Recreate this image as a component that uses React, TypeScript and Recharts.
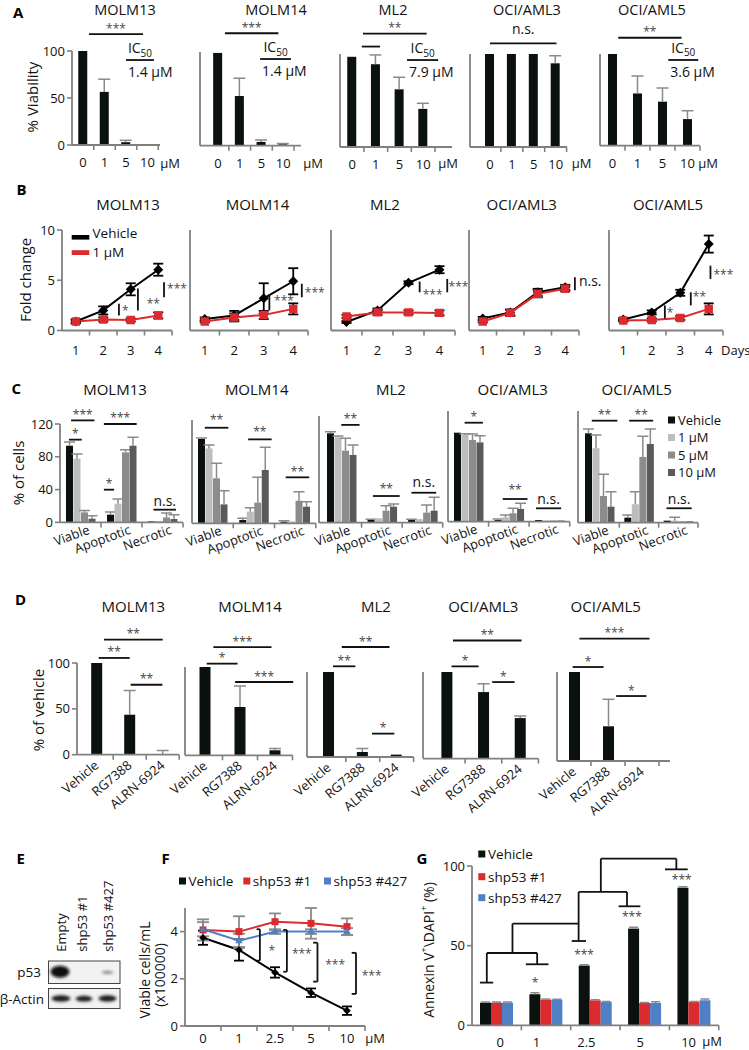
import React from 'react';
import { BarChart, Bar, LineChart, Line, XAxis, YAxis, ReferenceLine, ReferenceDot, ErrorBar } from 'recharts';

const FONT = '"Open Sans", "Liberation Sans", Arial, sans-serif';
const AXC = '#808080';
const STARC = '#4a4a4a';
const BLACK = '#0b120e';
const RED = '#dc2b2e';
const BLUE = '#4f80c6';
const ERRC = '#8a8a8a';

// ================= DATA =================
const cellLines = ['MOLM13', 'MOLM14', 'ML2', 'OCI/AML3', 'OCI/AML5'];

// Panel A: % viability
const doseLabelsA = ['0', '1', '5', '10'];
const viabMOLM13 = [102, 56.5, 3, 0.5];
const viabErrMOLM13 = [0.5, 13.5, 2, 0];
const viabMOLM14 = [99, 53, 4, 1.5];
const viabErrMOLM14 = [0, 19, 2, 0.8];
const viabML2 = [97, 89, 62, 41];
const viabErrML2 = [0, 10, 13, 6];
const viabAML3 = [101, 101, 101, 90];
const viabErrAML3 = [0, 0, 0, 8];
const viabAML5 = [100, 57, 48, 29];
const viabErrAML5 = [0, 19, 15, 9];
const ic50Labels = ['1.4 μM', '1.4 μM', '7.9 μM', '', '3.6 μM'];

// Panel B: fold change over days
const dayLabels = ['1', '2', '3', '4'];
const foldVehMOLM13 = [0.9, 2.0, 4.1, 6.05];
const foldVehErrMOLM13 = [0.2, 0.4, 0.6, 0.6];
const foldTrtMOLM13 = [0.9, 1.1, 1.05, 1.5];
const foldTrtErrMOLM13 = [0.15, 0.2, 0.15, 0.3];
const foldVehMOLM14 = [1.15, 1.5, 3.2, 4.9];
const foldVehErrMOLM14 = [0.15, 0.45, 1.5, 1.3];
const foldTrtMOLM14 = [0.9, 1.3, 1.55, 2.15];
const foldTrtErrMOLM14 = [0.1, 0.4, 0.4, 0.55];
const foldVehML2 = [0.85, 2.0, 4.75, 6.05];
const foldVehErrML2 = [0.1, 0.2, 0.15, 0.35];
const foldTrtML2 = [1.4, 1.8, 1.8, 1.75];
const foldTrtErrML2 = [0.15, 0.25, 0.2, 0.25];
const foldVehAML3 = [1.2, 1.8, 3.8, 4.3];
const foldVehErrAML3 = [0.15, 0.3, 0.35, 0.25];
const foldTrtAML3 = [0.9, 1.75, 3.65, 4.15];
const foldTrtErrAML3 = [0.1, 0.3, 0.35, 0.25];
const foldVehAML5 = [1.1, 1.8, 3.75, 8.6];
const foldVehErrAML5 = [0.15, 0.2, 0.3, 0.85];
const foldTrtAML5 = [1.0, 1.05, 1.25, 2.15];
const foldTrtErrAML5 = [0.1, 0.15, 0.2, 0.55];

// Panel C: % of cells (Vehicle, 1, 5, 10 µM) per category
const cellStates = ['Viable', 'Apoptotic', 'Necrotic'];
const doseLegendC = ['Vehicle', '1 μM', '5 μM', '10 μM'];
const cMOLM13 = [[93.5, 9.4, 1.2], [77.7, 22.8, 1.5], [12.2, 85.4, 6], [4.5, 93.5, 4.1]];
const cErrMOLM13 = [[4.5, 3.2, 0], [5.7, 5.7, 0], [2.4, 3.3, 5.4], [3.7, 10.2, 5.3]];
const cMOLM14 = [[98, 3.8, 1.9], [87, 13.5, 2.3], [52.3, 24, 26.2], [22, 61.9, 19.3]];
const cErrMOLM14 = [[1, 2, 1.1], [4, 4.6, 0], [17.4, 29.4, 10.5], [15.9, 26.4, 5.7]];
const cML2 = [[100.5, 3, 3], [96, 5, 4], [81, 13.5, 11.3], [76.2, 18, 13.5]];
const cErrML2 = [[1.9, 1, 1], [1.5, 0, 0], [14, 5.5, 8.7], [11.2, 3, 15]];
const cAML3 = [[96.5, 1.8, 1.8], [94, 4.8, 1.3], [88.6, 9.1, 1.3], [86, 13.8, 1.3]];
const cErrAML3 = [[0, 1.1, 0], [1.4, 2.4, 0], [6.4, 5.4, 0], [7.2, 6.2, 0]];
const cAML5 = [[96, 5.4, 2.2], [80, 19.8, 2.2], [28.7, 70.6, 1.5], [17.2, 84.5, 1.5]];
const cErrAML5 = [[4.6, 2.9, 0], [14.2, 13.5, 3.6], [23.3, 22.4, 0], [16.1, 16.1, 0]];

// Panel D: % of vehicle
const drugs = ['Vehicle', 'RG7388', 'ALRN-6924'];
const dMOLM13 = [103, 43.6, 0.8];
const dErrMOLM13 = [0, 26.4, 3.9];
const dMOLM14 = [100, 54.7, 5.7];
const dErrMOLM14 = [0, 23.8, 1.9];
const dML2 = [100, 5.9, 2.8];
const dErrML2 = [0, 4, 0];
const dAML3 = [101, 76.8, 46.8];
const dErrAML3 = [0, 9.7, 2.4];
const dAML5 = [100, 39, 0];
const dErrAML5 = [0, 30.3, 0];

// Panel F: viable cells/mL (x100000)
const doseLabelsFG = ['0', '1', '2.5', '5', '10'];
const fVehicle = [3.74, 3.22, 2.27, 1.41, 0.65];
const fVehicleErr = [0.3, 0.45, 0.22, 0.18, 0.18];
const fShp1 = [4.07, 4.0, 4.42, 4.35, 4.21];
const fShp1Err = [0.45, 0.65, 0.35, 0.65, 0.35];
const fShp427 = [4.1, 3.61, 4.0, 4.0, 4.0];
const fShp427Err = [0.3, 0.3, 0.1, 0.1, 0.15];
const shLegend = ['Vehicle', 'shp53 #1', 'shp53 #427'];

// Panel G: Annexin V+ DAPI+ (%)
const gVehicle = [14.2, 19.5, 37.5, 60.7, 86.4];
const gVehicleErr = [0.5, 1, 0.5, 0.8, 0.5];
const gShp1 = [14.2, 16.1, 15.7, 14, 14.6];
const gShp1Err = [0.5, 0.4, 0.3, 0.3, 0.3];
const gShp427 = [14.2, 16.1, 14.6, 14, 15.7];
const gShp427Err = [0.5, 0.3, 0.3, 0.8, 0.8];

// Panel E blot lanes
const blotLanes = ['Empty', 'shp53 #1', 'shp53 #427'];

// ================= ROW BUILDERS =================
const rowsSimple = (cats: string[], v: number[], e: number[]) => cats.map((c, i) => ({ c, i, v: v[i], e: e[i] }));
const rowsB = (veh: number[], vehE: number[], trt: number[], trtE: number[]) =>
  dayLabels.map((d, i) => ({ i, veh: veh[i], vehE: vehE[i], trt: trt[i], trtE: trtE[i] }));
const rowsC = (v: number[][], e: number[][]) =>
  cellStates.map((c, i) => ({ c, i, v0: v[0][i], v1: v[1][i], v2: v[2][i], v3: v[3][i], e0: e[0][i], e1: e[1][i], e2: e[2][i], e3: e[3][i] }));

const dataA = [
  rowsSimple(doseLabelsA, viabMOLM13, viabErrMOLM13),
  rowsSimple(doseLabelsA, viabMOLM14, viabErrMOLM14),
  rowsSimple(doseLabelsA, viabML2, viabErrML2),
  rowsSimple(doseLabelsA, viabAML3, viabErrAML3),
  rowsSimple(doseLabelsA, viabAML5, viabErrAML5),
];
const dataB = [
  rowsB(foldVehMOLM13, foldVehErrMOLM13, foldTrtMOLM13, foldTrtErrMOLM13),
  rowsB(foldVehMOLM14, foldVehErrMOLM14, foldTrtMOLM14, foldTrtErrMOLM14),
  rowsB(foldVehML2, foldVehErrML2, foldTrtML2, foldTrtErrML2),
  rowsB(foldVehAML3, foldVehErrAML3, foldTrtAML3, foldTrtErrAML3),
  rowsB(foldVehAML5, foldVehErrAML5, foldTrtAML5, foldTrtErrAML5),
];
const dataC = [rowsC(cMOLM13, cErrMOLM13), rowsC(cMOLM14, cErrMOLM14), rowsC(cML2, cErrML2), rowsC(cAML3, cErrAML3), rowsC(cAML5, cErrAML5)];
const dataD = [
  rowsSimple(drugs, dMOLM13, dErrMOLM13),
  rowsSimple(drugs, dMOLM14, dErrMOLM14),
  rowsSimple(drugs, dML2, dErrML2),
  rowsSimple(drugs, dAML3, dErrAML3),
  rowsSimple(drugs, dAML5, dErrAML5),
];
const dataF = doseLabelsFG.map((c, i) => ({
  i, veh: fVehicle[i], vehE: fVehicleErr[i], s1: fShp1[i], s1E: fShp1Err[i], s427: fShp427[i], s427E: fShp427Err[i],
}));
const dataG = doseLabelsFG.map((c, i) => ({
  c, i, veh: gVehicle[i], vehE: gVehicleErr[i], s1: gShp1[i], s1E: gShp1Err[i], s427: gShp427[i], s427E: gShp427Err[i],
}));

// ================= LAYOUT =================
const YW = 55;
const MR = 50;

const geoA = [
  { ax: 72, yTop: 51, yBot: 145, xEnd: 160, padL: 0.25, padR: 1.75 },
  { ax: 200, yTop: 52.3, yBot: 146, xEnd: 301, padL: 7.15, padR: 7 },
  { ax: 340, yTop: 54, yBot: 147, xEnd: 452, padL: 0.25, padR: 17 },
  { ax: 470, yTop: 54, yBot: 147, xEnd: 567, padL: 9, padR: 0.4 },
  { ax: 600, yTop: 54.3, yBot: 146, xEnd: 700, padL: 0, padR: 0 },
];
const geoB = [
  { ax: 62, yTop: 229.5, yBot: 330, xEnd: 172 },
  { ax: 190, yTop: 229.5, yBot: 330, xEnd: 308 },
  { ax: 330.5, yTop: 229.5, yBot: 330, xEnd: 454.5 },
  { ax: 469, yTop: 229.5, yBot: 330, xEnd: 579 },
  { ax: 609, yTop: 229.5, yBot: 330, xEnd: 723 },
];
const geoC = [
  { ax: 60, yTop: 424.3, yBot: 522.7, xEnd: 183 },
  { ax: 191.7, yTop: 420, yBot: 523.3, xEnd: 315.5 },
  { ax: 319.3, yTop: 416, yBot: 522.7, xEnd: 443, padL: 2 },
  { ax: 448.3, yTop: 411, yBot: 521.7, xEnd: 570 },
  { ax: 578.3, yTop: 411, yBot: 522.7, xEnd: 698.3, padL: 2 },
];
const geoD = [
  { ax: 77.3, yTop: 663.3, yBot: 755, xEnd: 179.5, padL: 3.2 },
  { ax: 185, yTop: 666.7, yBot: 755, xEnd: 292.5, padL: 2.5 },
  { ax: 306.7, yTop: 671.7, yBot: 756.7, xEnd: 413.3, padL: 5 },
  { ax: 423.3, yTop: 671.7, yBot: 758.3, xEnd: 538.7, padL: 5.4 },
  { ax: 556.7, yTop: 671.7, yBot: 760.7, xEnd: 669.7, padL: 0, padR: 11 },
];
const geoF = { ax: 185, yTop: 908, yBot: 1026, xEnd: 365 };
const geoG = { ax: 471.7, yTop: 865.7, yBot: 1025, xEnd: 718.5 };

// ================= ANNOTATIONS (data coords: x in category index units) =================
type Ann = { x1: number; x2: number; y1: number; y2: number; t?: string; pos?: string; ic?: boolean; dx?: number; dy?: number };
const H = (x1: number, x2: number, y: number, t?: string, o: any = {}): Ann => ({ x1, x2, y1: y, y2: y, t, pos: 't', ...o });
const V = (x: number, y1: number, y2: number, t?: string, o: any = {}): Ann => ({ x1: x, x2: x, y1, y2, t, pos: 'r', ...o });
const IC = (x1: number, x2: number, y: number, t: string): Ann => ({ x1, x2, y1: y, y2: y, t, ic: true });
const T = (x: number, y: number, t: string) => ({ x, y, t });

const annA: Ann[][] = [
  [H(0.28, 2.79, 118, '***'), IC(2.0, 3.3, 90.4, ic50Labels[0])],
  [H(0.32, 2.78, 120, '***'), IC(1.94, 3.36, 92.5, ic50Labels[1])],
  [H(0.46, 3.15, 122, '**'), H(0.41, 1.18, 108), IC(2.32, 3.63, 93.5, ic50Labels[2])],
  [H(0, 3.04, 111.5, 'n.s.', { dy: -5.5 })],
  [H(0.23, 2.76, 117.7, '**'), IC(2.23, 3.43, 93.5, ic50Labels[4])],
];
const annB: Ann[][] = [
  [V(1.57, 2.65, 1.5, '*'), V(2.26, 4.17, 1.99, '**', { dx: 5.8, dy: 3.7 }), V(3.21, 4.8, 3.3, '***', { dy: -1.5 })],
  [V(2.19, 3.5, 2.0, '***', { dx: 1.7, dy: -2.5 }), V(3.29, 4.65, 3.3, '***', { dy: 1.7 })],
  [V(2.36, 4.87, 3.8, '***', { dy: 7 }), V(3.25, 5.13, 3.8, '***', { dx: -1.7 })],
  [V(3.35, 5.3, 4.0, 'n.s.', { dx: 1, dy: -0.8 })],
  [V(1.46, 2.5, 1.2, '*', { dx: -1 }), V(2.37, 3.8, 2.5, '**', { dx: -1, dy: -3.3 }), V(3.06, 6.45, 5.13, '***', { dy: 1.7 })],
];
const annC: Ann[][] = [
  [H(-0.28, 0.03, 100.9, '*'), H(-0.23, 0.34, 124.4, '***'), H(0.57, 0.82, 39.9, '*'), H(0.57, 1.37, 120, '***'), H(1.78, 2.33, 15.5, 'n.s.')],
  [H(-0.19, 0.38, 111, '**', { dy: -2 }), H(0.86, 1.43, 97.5, '**', { dy: -2 }), H(1.77, 2.34, 53.4, '**')],
  [H(0, 0.45, 110, '**'), H(0.78, 1.44, 30, '**', { dy: -2 }), H(1.73, 2.34, 33.7, 'n.s.', { dy: -2 })],
  [H(-0.09, 0.36, 107.3, '*'), H(0.85, 1.46, 24.6, '**', { dy: -3.5 }), H(1.67, 2.29, 14.5, 'n.s.', { dy: -1 })],
  [H(-0.2, 0.45, 109.6, '**'), H(0.75, 1.36, 109.6, '**'), H(1.7, 2.34, 15.5, 'n.s.', { dy: -1 })],
];
const annD: Ann[][] = [
  [H(0.22, 2.0, 125.4, '**'), H(0.06, 1.0, 105.5, '**'), H(1.03, 1.99, 76.3, '**')],
  [H(0.24, 1.9, 122.6, '***'), H(0.05, 0.93, 103.8, '*'), H(0.86, 2.52, 83, '***')],
  [H(0.38, 1.79, 129.4, '**'), H(0.12, 0.78, 106.7, '**'), H(1.27, 1.93, 27.5, '*')],
  [H(0.17, 2.04, 136.4, '**'), H(0.13, 0.87, 106.5, '*'), H(1.24, 1.85, 88.4, '*')],
  [H(0.16, 2.22, 137.5, '***'), H(-0.04, 0.87, 105.6, '*'), H(1.24, 2.13, 73, '*')],
];
const annF: Ann[] = [
  V(1.58, 4.1, 2.77, '*', { dx: 5.7, dy: 5 }), H(1.49, 1.58, 4.1), H(1.49, 1.58, 2.77),
  V(2.33, 4.07, 2.3, '***', { dx: 2, dy: 2.6 }), H(2.23, 2.33, 4.07), H(2.23, 2.33, 2.3),
  V(3.18, 3.53, 1.88, '***', { dx: 4.7, dy: 2.2 }), H(3.06, 3.18, 3.53), H(3.06, 3.18, 1.88),
  V(4.25, 3.1, 1.36, '***', { dx: 2.7, dy: 2 }), H(4.13, 4.25, 3.1), H(4.13, 4.25, 1.36),
];
const annG: Ann[] = [
  H(-0.34, -0.07, 26.8), V(-0.2, 45.4, 26.8),
  H(0.59, 1.05, 38.3), V(0.82, 45.4, 38.3),
  H(-0.2, 0.82, 45.4), V(0.32, 63.8, 45.4),
  H(0.32, 1.66, 63.8), V(1.66, 83.7, 52.9), H(1.52, 1.81, 52.9),
  H(1.66, 2.64, 83.7), V(2.64, 83.7, 74.7), H(2.47, 2.91, 74.7),
  V(2.11, 104.6, 83.7), H(2.11, 3.64, 104.6), V(3.64, 104.6, 97.9), H(3.41, 3.87, 97.9),
];
const txtG = [T(0.78, 28.2, '*'), T(1.77, 46, '***'), T(2.74, 69.7, '***'), T(3.75, 92.7, '***')];
const labelShiftG = [3.5, -9.5, -9, -4.5, -5.5];

// ================= RENDER HELPERS =================
const annLabel = (a: Ann) => (p: any) => {
  const vb = (p && p.viewBox) || {};
  const x = vb.x ?? 0, y = vb.y ?? 0, w = vb.width ?? 0, h = vb.height ?? 0;
  const dx = a.dx ?? 0, dy = a.dy ?? 0;
  if (a.ic) {
    return (
      <g fontFamily={FONT} fill="#111">
        <text x={x + w / 2 + dx} y={y - 7} textAnchor="middle" fontSize={14}>IC<tspan fontSize={10} dy={3.5}>50</tspan></text>
        <text x={x + 2} y={y + 17} textAnchor="start" fontSize={14}>{a.t}</text>
      </g>
    );
  }
  const t = a.t || '';
  const star = t.indexOf('*') >= 0;
  const fs = star ? 12 : 14;
  const fill = star ? STARC : '#111';
  if (a.pos === 'r') {
    return <text x={x + w + 3 + dx} y={y + h / 2 + (star ? 5 : 3) + dy} textAnchor="start" fontSize={fs} fill={fill} fontFamily={FONT}>{t}</text>;
  }
  return <text x={x + w / 2 + dx} y={y - (star ? 1.5 : 3.5) + dy} textAnchor="middle" fontSize={fs} fill={fill} fontFamily={FONT}>{t}</text>;
};

const renderAnn = (a: Ann, i: number) => (
  <ReferenceLine
    key={'ann' + i}
    xAxisId="n"
    yAxisId={0}
    segment={[{ x: a.x1, y: a.y1 }, { x: a.x2, y: a.y2 }]}
    stroke="#111"
    strokeWidth={1.8}
    ifOverflow="visible"
    label={a.t ? annLabel(a) : undefined}
  />
);

const txtLabel = (t: any) => (p: any) => {
  const vb = (p && p.viewBox) || {};
  const star = t.t.indexOf('*') >= 0;
  return (
    <text x={vb.x ?? 0} y={(vb.y ?? 0) + (star ? 6.7 : 4)} textAnchor="middle" fontSize={star ? 12 : 14} fill={star ? STARC : '#111'} fontFamily={FONT}>
      {t.t}
    </text>
  );
};
const renderTxt = (t: any, i: number) => (
  <ReferenceDot key={'txt' + i} xAxisId="n" yAxisId={0} x={t.x} y={t.y} r={0} fill="none" stroke="none" ifOverflow="visible" label={txtLabel(t)} />
);

const makeTick = (o: any) => (p: any) => {
  const { x, y, index, payload } = p;
  const label = o.labels ? o.labels[index] : String(payload.value);
  const axisY = y - o.tm;
  const bx = x + o.band / 2;
  const fs = o.fs ?? 13;
  const sx = o.shift ? o.shift[index] || 0 : 0;
  return (
    <g>
      <line x1={bx} x2={bx} y1={axisY} y2={axisY + 5} stroke={AXC} strokeWidth={1.6} />
      {o.rot ? (
        <text transform={`translate(${x + (o.rdx ?? 0)},${y}) rotate(${-o.rot})`} textAnchor="end" fontSize={fs} fill="#111" fontFamily={FONT}>{label}</text>
      ) : (
        <text x={x + sx} y={y} dy="0.71em" textAnchor="middle" fontSize={fs} fill="#111" fontFamily={FONT}>{label}</text>
      )}
    </g>
  );
};

const barShape = (key: string, errKey: string, color: string, capW: number) => (p: any) => {
  const { x, y, width, height, payload } = p;
  const v = payload ? payload[key] : 0;
  const e = payload && errKey ? payload[errKey] : 0;
  const hgt = Math.max(0, height || 0);
  const pxPer = v > 0 ? hgt / v : 0;
  const eh = e * pxPer;
  const cx = x + width / 2;
  return (
    <g>
      <rect x={x} y={y} width={width} height={hgt} fill={color} />
      {e > 0 && pxPer > 0 ? (
        <g stroke={ERRC} strokeWidth={1.5}>
          <line x1={cx} x2={cx} y1={y} y2={y - eh} />
          <line x1={cx - capW / 2} x2={cx + capW / 2} y1={y - eh} y2={y - eh} />
        </g>
      ) : null}
    </g>
  );
};

const dotFn = (shape: string, color: string, r: number) => (p: any) => {
  const { cx, cy, index } = p;
  if (cx == null || cy == null) return <g key={'nd' + index} />;
  let d = '';
  if (shape === 'diamond') d = `M${cx},${cy - r}L${cx + r},${cy}L${cx},${cy + r}L${cx - r},${cy}Z`;
  else if (shape === 'square') d = `M${cx - r},${cy - r}h${2 * r}v${2 * r}h${-2 * r}Z`;
  else d = `M${cx},${cy - r * 1.15}L${cx + r},${cy + r * 0.65}L${cx - r},${cy + r * 0.65}Z`;
  return <path key={'d' + index} d={d} fill={color} />;
};

const yAxisProps = (yMax: number, yTicks: number[], yLabels: boolean) => ({
  yAxisId: 0,
  type: 'number' as const,
  domain: [0, yMax],
  ticks: yTicks,
  allowDataOverflow: true,
  width: YW,
  interval: 0 as const,
  axisLine: { stroke: AXC, strokeWidth: 1.8 },
  tickLine: { stroke: AXC, strokeWidth: 1.6 },
  tickSize: 5,
  tick: yLabels ? { fontSize: 13, fill: '#111', fontFamily: FONT } : false,
});

function BarPanel(props: any) {
  const { geo, data, series, yMax, yTicks, yLabels = false, barSize, barGap = 0, tick, anns = [], texts = [], capW = 12, mt = 60, xh = 40 } = props;
  const { ax, yTop, yBot, xEnd, padL = 0, padR = 0 } = geo;
  const plotW = xEnd - ax;
  const n = data.length;
  const band = (plotW - padL - padR) / n;
  const W = YW + plotW + MR;
  const Hh = mt + (yBot - yTop) + xh;
  return (
    <div style={{ position: 'absolute', left: ax - YW, top: yTop - mt, width: W, height: Hh }}>
      <BarChart width={W} height={Hh} data={data} margin={{ top: mt, right: MR, bottom: 0, left: 0 }} barGap={barGap} barSize={barSize}>
        <XAxis
          xAxisId={0}
          dataKey="c"
          type="category"
          padding={{ left: padL, right: padR }}
          height={xh}
          axisLine={{ stroke: AXC, strokeWidth: 1.8 }}
          tickLine={false}
          tickSize={0}
          tickMargin={tick.tm}
          interval={0}
          tick={makeTick({ ...tick, band })}
        />
        <XAxis xAxisId="n" dataKey="i" type="number" domain={[-0.5, n - 0.5]} allowDataOverflow hide padding={{ left: padL, right: padR }} />
        <YAxis {...yAxisProps(yMax, yTicks, yLabels)} />
        {series.map((s: any) => (
          <Bar key={s.key} xAxisId={0} yAxisId={0} dataKey={s.key} fill={s.color} barSize={barSize} isAnimationActive={false} shape={barShape(s.key, s.err, s.color, capW)} />
        ))}
        {anns.map(renderAnn)}
        {texts.map(renderTxt)}
      </BarChart>
    </div>
  );
}

function LinePanel(props: any) {
  const { geo, data, lines, yMax, yTicks, yLabels = false, tick, anns = [], texts = [], mt = 40, xh = 30 } = props;
  const { ax, yTop, yBot, xEnd, padL = 0, padR = 0 } = geo;
  const plotW = xEnd - ax;
  const n = data.length;
  const band = (plotW - padL - padR) / n;
  const W = YW + plotW + MR;
  const Hh = mt + (yBot - yTop) + xh;
  return (
    <div style={{ position: 'absolute', left: ax - YW, top: yTop - mt, width: W, height: Hh }}>
      <LineChart width={W} height={Hh} data={data} margin={{ top: mt, right: MR, bottom: 0, left: 0 }}>
        <XAxis
          xAxisId="n"
          dataKey="i"
          type="number"
          domain={[-0.5, n - 0.5]}
          ticks={data.map((d: any) => d.i)}
          allowDataOverflow
          interval={0}
          padding={{ left: padL, right: padR }}
          height={xh}
          axisLine={{ stroke: AXC, strokeWidth: 1.8 }}
          tickLine={false}
          tickSize={0}
          tickMargin={tick.tm}
          tick={makeTick({ ...tick, band })}
        />
        <YAxis {...yAxisProps(yMax, yTicks, yLabels)} />
        {lines.map((l: any) => (
          <Line key={l.key} xAxisId="n" yAxisId={0} dataKey={l.key} stroke={l.color} strokeWidth={2} dot={dotFn(l.shape, l.color, l.r)} activeDot={false} isAnimationActive={false}>
            <ErrorBar dataKey={l.err} width={l.capW ?? 5} strokeWidth={1.8} stroke={l.errColor} direction="y" />
          </Line>
        ))}
        {anns.map(renderAnn)}
        {texts.map(renderTxt)}
      </LineChart>
    </div>
  );
}

const seriesSimple = [{ key: 'v', err: 'e', color: BLACK }];
const greysC = [BLACK, '#bdbdbd', '#8c8c8c', '#5a5a5a'];
const seriesC = [0, 1, 2, 3].map((k) => ({ key: 'v' + k, err: 'e' + k, color: greysC[k] }));
const seriesG = [
  { key: 'veh', err: 'vehE', color: BLACK },
  { key: 's1', err: 's1E', color: RED },
  { key: 's427', err: 's427E', color: BLUE },
];
const linesB = [
  { key: 'veh', err: 'vehE', color: '#000', errColor: '#000', shape: 'diamond', r: 5 },
  { key: 'trt', err: 'trtE', color: RED, errColor: '#000', shape: 'square', r: 4.2 },
];
const linesF = [
  { key: 'veh', err: 'vehE', color: '#000', errColor: '#000', shape: 'diamond', r: 3.8, capW: 5 },
  { key: 's1', err: 's1E', color: RED, errColor: ERRC, shape: 'square', r: 3.5, capW: 6 },
  { key: 's427', err: 's427E', color: BLUE, errColor: ERRC, shape: 'triangle', r: 3.8, capW: 6 },
];

// ================= OVERLAY (titles, legends, blot) =================
const titleXA = [125, 276, 393, 527, 652];
const titleXB = [128, 257.5, 385, 521.7, 668];
const titleXC = [115, 256.7, 391, 512.7, 636.7];
const titleXD = [133.3, 250, 376, 483.3, 605.7];
const unitXA = [170, 313, 448, 581.7, 708];

function RotText({ x, y, fs = 15, children }: any) {
  return (
    <text transform={`translate(${x},${y}) rotate(-90)`} textAnchor="middle" dominantBaseline="central" fontSize={fs} fill="#111">
      {children}
    </text>
  );
}

function Overlay() {
  const letter = (t: string, x: number, y: number) => (
    <text key={t} x={x} y={y} fontSize={15} fontWeight={700} fill="#000">{t}</text>
  );
  return (
    <svg width={749} height={1050} style={{ position: 'absolute', left: 0, top: 0, pointerEvents: 'none' }} fontFamily={FONT}>
      <defs>
        <filter id="blr" x="-50%" y="-50%" width="200%" height="200%"><feGaussianBlur stdDeviation="1.5" /></filter>
      </defs>
      {letter('A', 13, 18)}
      {letter('B', 16.5, 195)}
      {letter('C', 11.5, 393.5)}
      {letter('D', 15, 605)}
      {letter('E', 16.5, 863.5)}
      {letter('F', 161.5, 863.5)}
      {letter('G', 416.5, 863.5)}

      {cellLines.map((c, k) => (
        <g key={'t' + k} fontSize={15} fill="#111" textAnchor="middle">
          <text x={titleXA[k]} y={14.5} fontSize={14.5}>{c}</text>
          <text x={titleXB[k]} y={209.7}>{c}</text>
          <text x={titleXC[k]} y={394.7}>{c}</text>
          <text x={titleXD[k]} y={612}>{c}</text>
        </g>
      ))}

      {unitXA.map((x, k) => (
        <text key={'u' + k} x={x} y={167.6} fontSize={13} textAnchor="middle" fill="#111">μM</text>
      ))}
      <text x={721} y={354.6} fontSize={13} fill="#111">Days</text>
      <text x={375} y={1043} fontSize={13} textAnchor="middle" fill="#111">μM</text>
      <text x={712} y={1046.3} fontSize={13} textAnchor="middle" fill="#111">μM</text>

      <RotText x={32} y={97}>% Viability</RotText>
      <RotText x={25} y={280}>Fold change</RotText>
      <RotText x={18} y={473}>% of cells</RotText>
      <RotText x={38} y={710}>% of vehicle</RotText>
      <RotText x={144} y={970} fs={14}>Viable cells/mL</RotText>
      <RotText x={159} y={975} fs={14}>(x100000)</RotText>
      <RotText x={428} y={950} fs={14}>
        Annexin V<tspan fontSize={9} dy={-5}>+</tspan><tspan dy={5}>{'\\DAPI'}</tspan><tspan fontSize={9} dy={-5}>+</tspan><tspan dy={5}> (%)</tspan>
      </RotText>

      {/* Legend B */}
      <rect x={71.7} y={235} width={17.6} height={4.6} fill="#000" />
      <text x={92.5} y={238} fontSize={13.5} fill="#111">Vehicle</text>
      <rect x={71.7} y={250.2} width={17.6} height={4.8} fill={RED} />
      <text x={92.5} y={256.7} fontSize={13.5} fill="#111">1 μM</text>

      {/* Legend C */}
      {doseLegendC.map((t, k) => {
        const cy = 420 + k * 17.5;
        return (
          <g key={'lc' + k}>
            <rect x={668} y={cy - 3.5} width={7} height={7} fill={greysC[k]} />
            <text x={678} y={cy + 4.7} fontSize={13} fill="#111">{t}</text>
          </g>
        );
      })}

      {/* Legend F */}
      {shLegend.map((t, k) => {
        const sx = [179, 243.3, 324][k];
        const col = [BLACK, RED, BLUE][k];
        return (
          <g key={'lf' + k}>
            <rect x={sx} y={877.5} width={7} height={7} fill={col} />
            <text x={sx + 9.5} y={886} fontSize={13.5} fill="#111">{t}</text>
          </g>
        );
      })}

      {/* Legend G */}
      {shLegend.map((t, k) => {
        const cy = [854, 876.7, 897.7][k];
        const col = [BLACK, RED, BLUE][k];
        return (
          <g key={'lg' + k}>
            <rect x={478.3} y={cy - 3.5} width={7} height={7} fill={col} />
            <text x={488} y={cy + 5} fontSize={13.5} fill="#111">{t}</text>
          </g>
        );
      })}

      {/* Panel E western blot */}
      {blotLanes.map((t, k) => {
        const lx = [61, 82.5, 108.3][k];
        return (
          <text key={'bl' + k} transform={`translate(${lx + 4.7},951.7) rotate(-90)`} fontSize={13} fill="#111">{t}</text>
        );
      })}
      <text x={41} y={976.5} fontSize={13.5} textAnchor="end" fill="#111">p53</text>
      <text x={44} y={1003.5} fontSize={13.5} textAnchor="end" fill="#111">β-Actin</text>
      <rect x={48.5} y={961} width={71.5} height={22.5} fill="#f2f2f2" stroke="#444" strokeWidth={1} />
      <rect x={48.5} y={988.5} width={71.5} height={20} fill="#f2f2f2" stroke="#444" strokeWidth={1} />
      <ellipse cx={60} cy={971.8} rx={9.5} ry={6} fill="#0a0a0a" filter="url(#blr)" />
      <ellipse cx={107.5} cy={972.3} rx={6} ry={1.6} fill="#8a8a8a" filter="url(#blr)" />
      <ellipse cx={61} cy={998.5} rx={9.5} ry={3.2} fill="#1a1a1a" filter="url(#blr)" />
      <ellipse cx={84} cy={998.7} rx={8.5} ry={2.9} fill="#1a1a1a" filter="url(#blr)" />
      <ellipse cx={107.5} cy={998.5} rx={9} ry={3.2} fill="#1a1a1a" filter="url(#blr)" />
    </svg>
  );
}

export default function App() {
  return (
    <div style={{ position: 'absolute', left: 0, top: 0, width: 749, height: 1050, background: '#fff', overflow: 'hidden', fontFamily: FONT }}>
      {geoA.map((g, k) => (
        <BarPanel key={'A' + k} geo={g} data={dataA[k]} series={seriesSimple} yMax={100} yTicks={[0, 50, 100]} yLabels={k === 0}
          barSize={9} tick={{ tm: 13 }} anns={annA[k]} mt={50} xh={30} capW={12} />
      ))}
      {geoB.map((g, k) => (
        <LinePanel key={'B' + k} geo={g} data={dataB[k]} lines={linesB} yMax={10} yTicks={[0, 5, 10]} yLabels={k === 0}
          tick={{ tm: 15, labels: dayLabels }} anns={annB[k]} mt={40} xh={30} />
      ))}
      {geoC.map((g, k) => (
        <BarPanel key={'C' + k} geo={g} data={dataC[k]} series={seriesC} yMax={120} yTicks={[0, 40, 80, 120]} yLabels={k === 0}
          barSize={7} barGap={0.5} tick={{ tm: 11, rot: 20, rdx: 10 }} anns={annC[k]} mt={40} xh={60} capW={11} />
      ))}
      {geoD.map((g, k) => (
        <BarPanel key={'D' + k} geo={g} data={dataD[k]} series={seriesSimple} yMax={100} yTicks={[0, 50, 100]} yLabels={k === 0}
          barSize={11} tick={{ tm: 12, rot: 40, rdx: 3 }} anns={annD[k]} mt={60} xh={70} capW={12} />
      ))}
      <LinePanel geo={geoF} data={dataF} lines={linesF} yMax={5} yTicks={[0, 2, 4]} yLabels
        tick={{ tm: 7.7, labels: doseLabelsFG }} anns={annF} mt={30} xh={30} />
      <BarPanel geo={geoG} data={dataG} series={seriesG} yMax={100} yTicks={[0, 50, 100]} yLabels
        barSize={11} tick={{ tm: 12, shift: labelShiftG }} anns={annG} texts={txtG} mt={30} xh={30} capW={9} />
      <Overlay />
    </div>
  );
}
